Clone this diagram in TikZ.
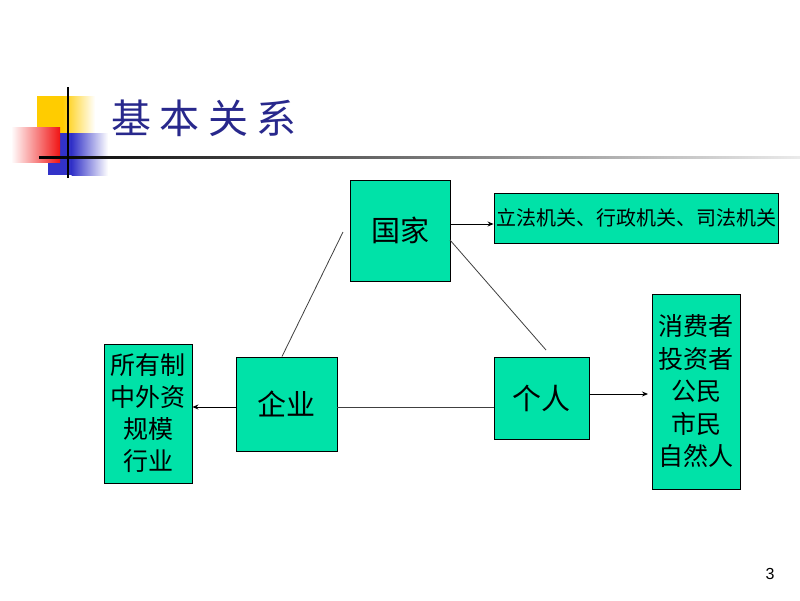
\documentclass[tikz,border=0pt]{standalone}
\usepackage{fontspec}
\newfontfamily\cjk{Noto Sans CJK SC}
\newfontfamily\arial{Liberation Sans}
\usetikzlibrary{arrows.meta}
\definecolor{boxgreen}{RGB}{0,226,168}
\definecolor{titleblue}{RGB}{40,40,140}
\definecolor{decoyellow}{RGB}{255,204,0}
\definecolor{decored}{RGB}{240,20,20}
\definecolor{decoblue}{RGB}{50,50,200}
\tikzset{
  gbox/.style={draw=black, line width=0.9pt, fill=boxgreen, inner sep=0pt, align=center, font=\cjk},
  link/.style={draw=black!75, line width=0.8pt},
  arr/.style={draw=black, line width=0.9pt, -{Stealth[length=6pt,width=5pt]}},
}
\begin{document}
\begin{tikzpicture}[x=1pt,y=-1pt]
\useasboundingbox (0,0) rectangle (800,600);
\fill[white] (0,0) rectangle (800,600);
% decoration
\fill[decoyellow] (37,96) rectangle (63,133);
\shade[left color=decoyellow, right color=white, shading angle=90] (62.5,96) rectangle (95,133);
\fill[decoblue] (48,133) rectangle (72,175);
\shade[left color=decoblue, right color=white] (71.5,133) rectangle (108,175);
\shade[left color=white, right color=decored] (11,127) rectangle (60,162);
\shade[left color=black, right color=black!8] (39,156) rectangle (800,158.5);
\fill[black] (67.3,87) rectangle (69,178);
% title
\node[font=\cjk\fontsize{40}{40}\selectfont, text=titleblue, anchor=west, inner sep=0pt] (title) at (111,118) {基\hspace{8.5pt}本\hspace{8.5pt}关\hspace{8.5pt}系};
% boxes
\node[gbox, minimum width=100pt, minimum height=101pt, font=\cjk\fontsize{29}{29}\selectfont] (guojia) at (400,230.5) {国家};
\node[gbox, minimum width=284pt, minimum height=50pt, font=\cjk\fontsize{20}{20}\selectfont] (jiguan) at (636,218) {立法机关、行政机关、司法机关};
\node[gbox, minimum width=101pt, minimum height=94pt, font=\cjk\fontsize{29}{29}\selectfont] (qiye) at (286.5,404) {企业};
\node[gbox, minimum width=95pt, minimum height=82pt, font=\cjk\fontsize{29}{29}\selectfont] (geren) at (541.5,398) {个人};
\node[gbox, minimum width=88pt, minimum height=139pt, font=\cjk\fontsize{25}{32}\selectfont] (qiyeattr) at (148,413.5) {所有制\\中外资\\规模\\行业};
\node[gbox, minimum width=88pt, minimum height=195pt, font=\cjk\fontsize{25}{32.5}\selectfont] (gerenattr) at (696,391.5) {消费者\\投资者\\公民\\市民\\自然人};
% page number
\node[font=\arial\fontsize{16}{16}\selectfont, inner sep=0pt] (pagenum) at (770,574) {3};
% connectors
\coordinate (gq) at (343,232);
\coordinate (gqend) at (282,356.5);
\coordinate (gr) at (450,240);
\coordinate (grend) at (546,350);
\coordinate (rattip) at (648,394);
\draw[link] (gq) -- (gqend);
\draw[link] (gr) -- (grend);
\draw[link] (qiye.east |- 0,407) -- (geren.west |- 0,407);
\draw[arr] (guojia.east |- 0,224) -- (jiguan.west |- 0,224);
\draw[arr] (qiye.west |- 0,407) -- (qiyeattr.east |- 0,407);
\draw[arr] (geren.east |- 0,394) -- (rattip);
\end{tikzpicture}
\end{document}
